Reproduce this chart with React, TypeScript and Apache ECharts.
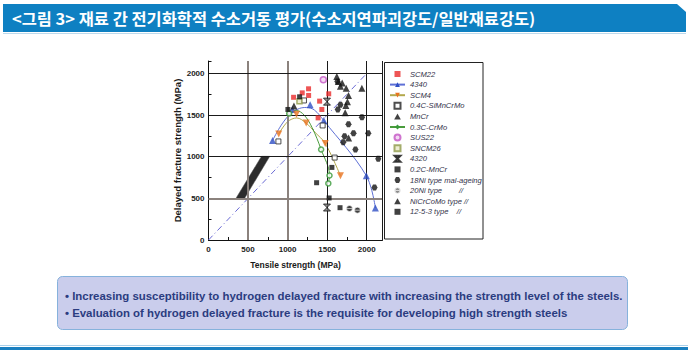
import React, { useEffect, useRef } from 'react';
import * as echarts from 'echarts';

// ---------- texts ----------
const titleText = '<그림 3> 재료 간 전기화학적 수소거동 평가(수소지연파괴강도/일반재료강도)';
const bullet1 = '• Increasing susceptibility to hydrogen delayed fracture with increasing the strength level of the steels.';
const bullet2 = '• Evaluation of hydrogen delayed fracture is the requisite for developing high strength steels';
const xName = 'Tensile strength (MPa)';
const yName = 'Delayed fracture strength (MPa)';

// ---------- axes ----------
const xMin = 0, xMax = 2200, yMin = 0, yMax = 2150, tickStep = 500;
const gridXGrey = [500, 1000];
const gridXBlack = [1500, 2000];
const gridYGrey = [500];
const gridYBlack = [1000, 1500, 2000];

// ---------- data (tensile strength, delayed fracture strength) ----------
const scm22 = [[1076, 1714], [1185, 1767], [1265, 1816], [1266, 1736], [1405, 1668], [1433, 1568], [1520, 1756], [1386, 1467]];
const s4340 = [[810, 1196], [1060, 1567], [1285, 1625], [1458, 1434], [1995, 772], [2110, 384]];
const s4340Fit = [[810, 1196], [920, 1380], [1040, 1520], [1150, 1580], [1240, 1592], [1340, 1560], [1458, 1434], [1995, 772], [2110, 384]];
const scm4 = [[888, 1274], [1113, 1510], [1235, 1404], [1476, 1160], [1668, 773]];
const scm4Fit = [[888, 1274], [1000, 1420], [1115, 1466], [1235, 1404], [1350, 1290], [1476, 1160], [1668, 773]];
const c04SiMnCrMo = [[884, 1184], [1207, 1676], [1443, 1376], [1595, 990]];
const mnCr = [[1080, 1608]];
const c03CrMo = [[1020, 1519], [1424, 1087], [1530, 775], [1515, 680]];
const c03CrMoFit = [[1010, 1500], [1110, 1556], [1210, 1500], [1310, 1350], [1424, 1087], [1530, 775], [1515, 680]];
const sus22 = [[1452, 1926]];
const sncm26 = [[1150, 1667]];
const s4320 = [[1498, 1662], [1498, 390]];
const c02MnCr = [[1004, 1568], [1152, 1720], [1560, 872]];
const ni18 = [[1630, 1905], [1668, 1625], [1635, 1568], [1940, 1475], [1770, 1390], [1833, 1283], [2020, 1283], [1720, 1247], [1703, 1175], [1858, 1087], [2146, 975], [2099, 632]];
const ni20 = [[1782, 378], [1883, 358]];
const niCrCoMo = [[1622, 1965], [1641, 1905], [1668, 1848], [1690, 1885], [1741, 1823], [1939, 1822], [1770, 1735], [1757, 1660], [1737, 1615], [1728, 1527], [1772, 1225]];
const t1253 = [[1367, 688], [1525, 505], [1663, 388]];
const bandCorners = [[340, 490], [450, 490], [775, 1005], [670, 1005]];
const diagonal = [[0, 0], [2000, 2000]];

const NB = '\u00a0';
const names = {
  scm22: 'SCM22',
  s4340: '4340',
  scm4: 'SCM4',
  c04: '0.4C-SiMnCrMo',
  mncr: 'MnCr',
  c03: '0.3C-CrMo',
  sus22: 'SUS22',
  sncm26: 'SNCM26',
  s4320: '4320',
  c02: '0.2C-MnCr',
  ni18: '18Ni type mal-ageing',
  ni20: '20Ni type' + NB.repeat(8) + '//',
  nicrcomo: 'NiCrCoMo type //',
  t1253: '12-5-3 type' + NB.repeat(4) + '//',
};

const SQ = 'path://M0,0 L10,0 L10,10 L0,10 Z';
const TRI = 'path://M5,0 L10,9 L0,9 Z';
const INV_TRI = 'path://M0,0 L10,0 L5,9 Z';
const CIRC = 'path://M5,0 A5,5 0 1 1 5,10 A5,5 0 1 1 5,0 Z';
const HEX = 'path://M2.5,0 L7.5,0 L10,5 L7.5,10 L2.5,10 L0,5 Z';
const BOWTIE = 'path://M0,0 L10,0 L0,10 L10,10 Z';
const CIRC_BAR = 'path://M5,0 A5,5 0 1 1 5,10 A5,5 0 1 1 5,0 Z M0,5 L10,5';

function measure(text: string, font: string) {
  const ctx = document.createElement('canvas').getContext('2d')!;
  ctx.font = font;
  return ctx.measureText(text).width;
}

export default function App() {
  const ref = useRef<HTMLDivElement>(null);
  useEffect(() => {
    if (!ref.current) return;
    const chart = echarts.init(ref.current, null, { renderer: 'svg' });

    const titleFont = 'bold 16px "Noto Sans CJK KR"';
    const titleScale = 524 / measure(titleText, titleFont);
    const bulletFont = 'bold 11px "Liberation Sans"';
    const bulletScale = 558 / measure(bullet1, bulletFont);

    const scatter = (name: string, data: number[][], symbol: string, size: number, itemStyle: any) => ({
      type: 'scatter', name, data, symbol, symbolSize: size, z: 5, itemStyle,
    });
    const fit = (name: string, data: number[][], symbol: string, lineColor: string, markColor: string) => ({
      type: 'line', name, data, smooth: 0.35, showSymbol: false, symbol, z: 4,
      lineStyle: { color: lineColor, width: 1 },
      itemStyle: { color: markColor },
    });

    const markLineData = [
      ...gridXGrey.map((v) => ({ xAxis: v, lineStyle: { color: '#8b827d', width: 2, type: 'solid' } })),
      ...gridXBlack.map((v) => ({ xAxis: v, lineStyle: { color: '#1a1a1a', width: 1, type: 'solid' } })),
      ...gridYGrey.map((v) => ({ yAxis: v, lineStyle: { color: '#8b827d', width: 2, type: 'solid' } })),
      ...gridYBlack.map((v) => ({ yAxis: v, lineStyle: { color: '#1a1a1a', width: 1, type: 'solid' } })),
      { xAxis: xMax, lineStyle: { color: '#1a1a1a', width: 1, type: 'solid' } },
    ];

    const labelStyle = { fontSize: 8, fontWeight: 'bold', color: '#222', fontFamily: 'Liberation Sans', formatter: (v: number) => String(v), showMaxLabel: false };

    const option: any = {
      animation: false,
      backgroundColor: '#ffffff',
      grid: { left: 208.5, right: 305.5, top: 61, bottom: 115, containLabel: false },
      xAxis: {
        type: 'value', min: xMin, max: xMax, interval: tickStep,
        name: xName, nameLocation: 'middle', nameGap: 20,
        nameTextStyle: { fontSize: 8.5, fontWeight: 'bold', color: '#1a1a1a', fontFamily: 'Liberation Sans' },
        axisLine: { show: true, lineStyle: { color: '#111', width: 1 } },
        axisTick: { show: true, inside: true, length: 3, lineStyle: { color: '#111' } },
        minorTick: { show: true, splitNumber: 2, length: 3, lineStyle: { color: '#111' } },
        splitLine: { show: false },
        axisLabel: { ...labelStyle, margin: 5 },
      },
      yAxis: {
        type: 'value', min: yMin, max: yMax, interval: tickStep,
        name: yName, nameLocation: 'middle', nameGap: 22,
        nameTextStyle: { fontSize: 9.5, fontWeight: 'bold', color: '#1a1a1a', fontFamily: 'Liberation Sans' },
        axisLine: { show: true, lineStyle: { color: '#111', width: 1 } },
        axisTick: { show: true, inside: true, length: 3, lineStyle: { color: '#111' } },
        minorTick: { show: true, splitNumber: 2, length: 3, lineStyle: { color: '#111' } },
        splitLine: { show: false },
        axisLabel: { ...labelStyle, margin: 4 },
      },
      legend: {
        orient: 'vertical', left: 389, top: 69, selectedMode: false,
        itemWidth: 15, itemHeight: 6, itemGap: 0.6, padding: 0, symbolKeepAspect: true,
        textStyle: { fontSize: 7.6, fontStyle: 'italic', color: '#33334a', fontFamily: 'Liberation Sans', lineHeight: 10 },
        data: Object.values(names),
      },
      graphic: [
        { type: 'polygon', silent: true, shape: { points: [[3, 4], [677, 4], [686, 12], [686, 32], [3, 32]] }, style: { fill: '#0e80c2' } },
        { type: 'rect', silent: true, shape: { x: 3, y: 33, width: 683, height: 1 }, style: { fill: '#bcd9ec' } },
        { type: 'text', silent: true, x: 12, y: 18.5, scaleX: titleScale, style: { text: titleText, fill: '#ffffff', fontSize: 16, fontWeight: 'bold', fontFamily: 'Noto Sans CJK KR', verticalAlign: 'middle' } },
        { type: 'rect', silent: true, shape: { x: 384.5, y: 62.5, width: 98.5, height: 176.5 }, style: { fill: 'none', stroke: '#222', lineWidth: 1 } },
        { type: 'rect', silent: true, shape: { x: 57.5, y: 276.5, width: 570, height: 53, r: 5 }, style: { fill: '#cacdec', stroke: '#86b2dc', lineWidth: 1 } },
        { type: 'text', silent: true, x: 65, y: 296, scaleX: bulletScale, style: { text: bullet1, fill: '#2b3c80', fontSize: 11, fontWeight: 'bold', fontFamily: 'Liberation Sans', verticalAlign: 'middle' } },
        { type: 'text', silent: true, x: 65, y: 313, scaleX: bulletScale, style: { text: bullet2, fill: '#2b3c80', fontSize: 11, fontWeight: 'bold', fontFamily: 'Liberation Sans', verticalAlign: 'middle' } },
        { type: 'rect', silent: true, shape: { x: 0, y: 345, width: 688, height: 1 }, style: { fill: '#a9d0ea' } },
        { type: 'rect', silent: true, shape: { x: 0, y: 347, width: 688, height: 3 }, style: { fill: '#1a7fc0' } },
      ],
      series: [
        { type: 'line', name: 'grid', data: [], z: 1, silent: true, markLine: { silent: true, symbol: 'none', label: { show: false }, data: markLineData } },
        {
          type: 'custom', name: 'band', data: [0], z: 2, silent: true,
          renderItem: (_p: any, api: any) => ({
            type: 'polygon',
            shape: { points: bandCorners.map((c) => api.coord(c)) },
            style: { fill: '#2c2c2c', stroke: '#555', lineWidth: 0.5 },
          }),
        },
        { type: 'line', name: 'diag', data: diagonal, showSymbol: false, z: 3, silent: true, lineStyle: { color: '#6a6ad4', width: 1, type: [6, 3, 1, 3] } },
        scatter(names.scm22, scm22, SQ, 5, { color: '#ea2a2a' }),
        fit(names.s4340, s4340Fit, TRI, '#5e70d6', '#2f4fc4'),
        scatter(names.s4340, s4340, TRI, 7, { color: '#2f4fc4' }),
        fit(names.scm4, scm4Fit, INV_TRI, '#b3a84c', '#e8731f'),
        scatter(names.scm4, scm4, INV_TRI, 7, { color: '#e8731f' }),
        scatter(names.c04, c04SiMnCrMo, SQ, 5, { color: '#ffffff', borderColor: '#222', borderWidth: 1 }),
        scatter(names.mncr, mnCr, TRI, 7, { color: '#111' }),
        fit(names.c03, c03CrMoFit, 'diamond', '#4a9c3c', '#3a9a3a'),
        scatter(names.c03, c03CrMo, CIRC, 5, { color: '#ffffff', borderColor: '#3a9a3a', borderWidth: 1.5 }),
        scatter(names.sus22, sus22, CIRC, 6, { color: '#f0d0f0', borderColor: '#c455c4', borderWidth: 1.5 }),
        scatter(names.sncm26, sncm26, SQ, 5, { color: '#e8e8c8', borderColor: '#8f9a4a', borderWidth: 1.5 }),
        scatter(names.s4320, s4320, BOWTIE, 7, { color: '#777', borderColor: '#111', borderWidth: 1 }),
        scatter(names.c02, c02MnCr, SQ, 5, { color: '#111' }),
        scatter(names.ni18, ni18, HEX, 6, { color: '#111' }),
        scatter(names.ni20, ni20, CIRC_BAR, 6, { color: '#111', borderColor: '#fff', borderWidth: 0.8 }),
        scatter(names.nicrcomo, niCrCoMo, TRI, 7, { color: '#111' }),
        scatter(names.t1253, t1253, SQ, 5, { color: '#111' }),
      ],
    };
    chart.setOption(option);
    return () => chart.dispose();
  }, []);
  return (
    <div style={{ position: 'fixed', left: 0, top: 0, width: 688, height: 355, background: '#fff' }}>
      <div ref={ref} style={{ width: 688, height: 355 }} />
    </div>
  );
}
